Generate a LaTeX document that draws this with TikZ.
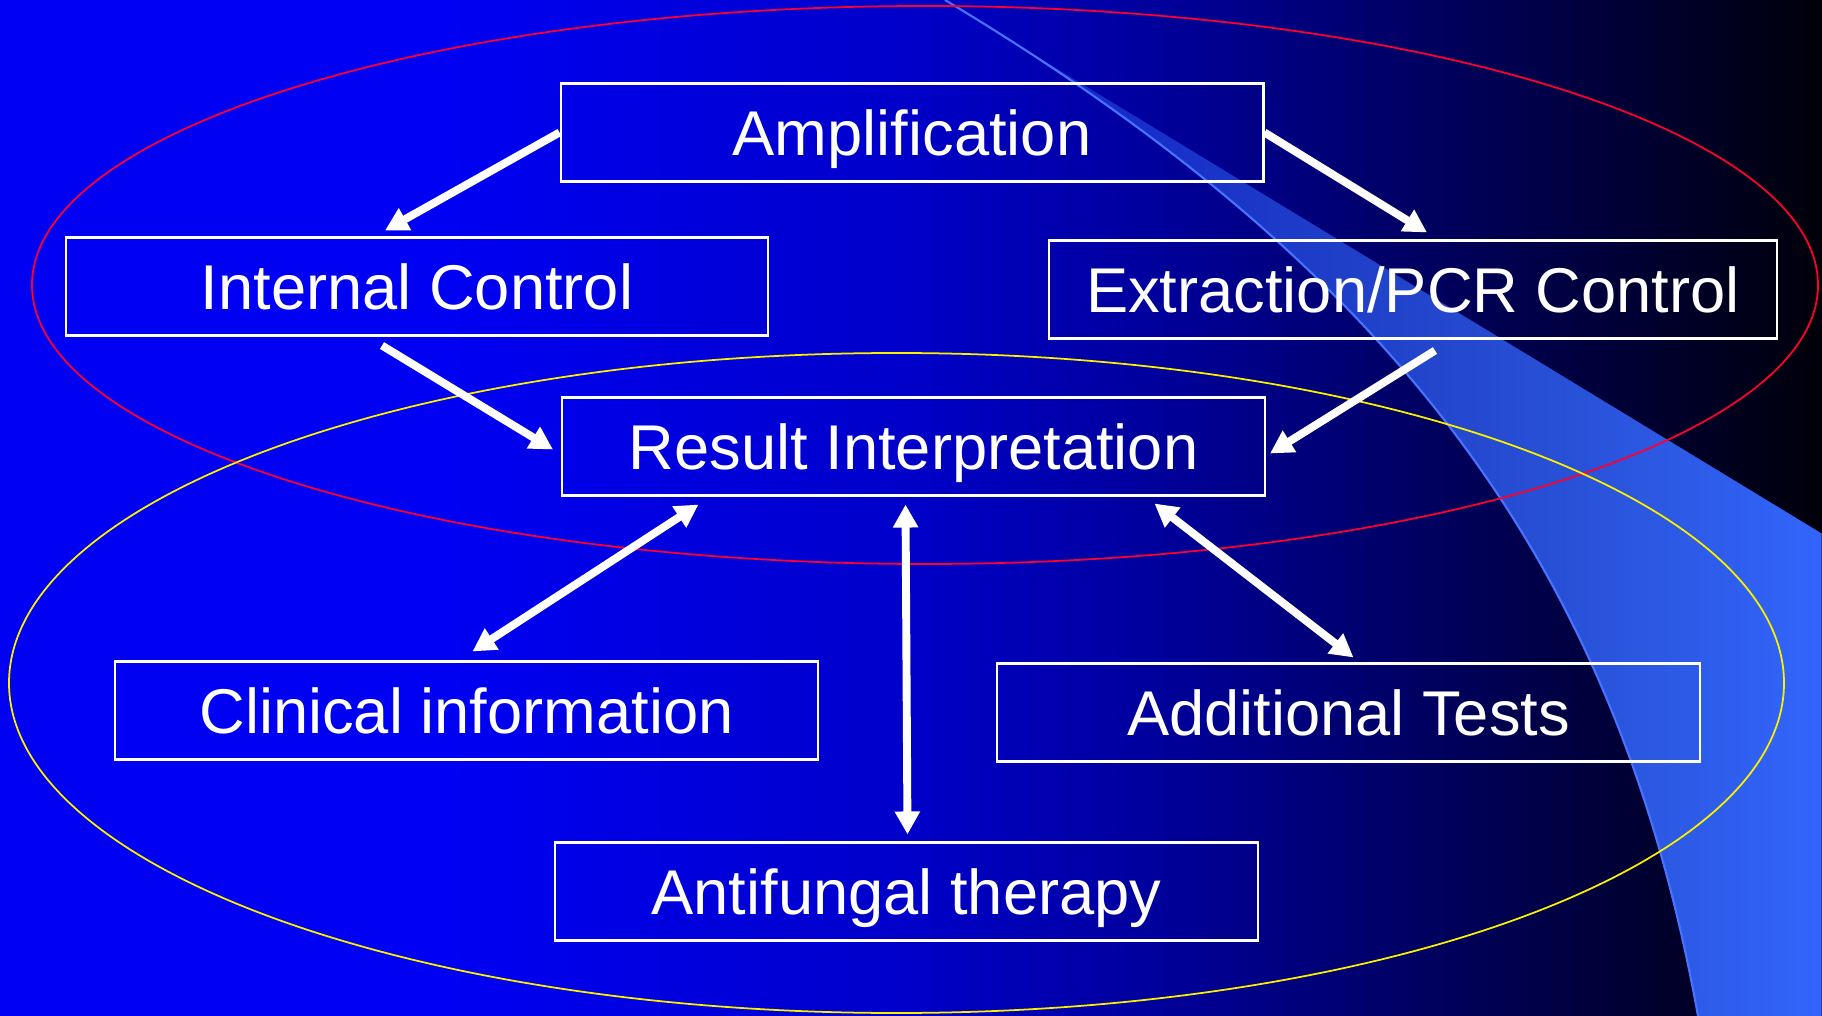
\documentclass[tikz,border=0pt]{standalone}
\usepackage{fontspec}
\setmainfont{Liberation Sans}
\usetikzlibrary{arrows.meta,calc,fadings}

\definecolor{slideblue}{RGB}{0,0,242}
\definecolor{swooshblue}{RGB}{51,102,255}
\definecolor{swooshedge}{RGB}{70,115,255}
\definecolor{ringred}{RGB}{255,0,45}
\definecolor{ringyellow}{RGB}{250,240,0}

% the path box takes the shading's middle half (25bp--75bp)
\pgfdeclarehorizontalshading{slidebg}{100bp}{color(0bp)=(slideblue); color(37.5bp)=(slideblue); color(50bp)=(slideblue!83!black); color(57.5bp)=(slideblue!62!black); color(62.5bp)=(slideblue!45!black); color(67.5bp)=(slideblue!29!black); color(75bp)=(slideblue!4!black); color(100bp)=(slideblue!4!black)}
\tikzfading[name=swooshfade, left color=transparent!70, middle color=transparent!15, right color=transparent!0]

\tikzset{
	stepbox/.style={draw=white, line width=1.2pt, minimum width=14.06cm, minimum height=1.96cm, inner sep=0pt,
		text=white, font=\fontsize{36}{40}\selectfont, text height=0.91cm, text depth=0cm},
	diredge/.style={-{Triangle[length=0.46cm,width=0.48cm]}, draw=white, line width=4.5pt},
	bidiredge/.style={{Triangle[length=0.46cm,width=0.48cm]}-{Triangle[length=0.46cm,width=0.48cm]}, draw=white, line width=4.5pt},
	ring/.style={line width=1pt}
}

\begin{document}
\begin{tikzpicture}[x=0.02cm,y=-0.02cm]
\useasboundingbox (0,0) rectangle (1822,1016);
%%%% background and swoosh
\fill[shading=slidebg] (0,0) rectangle (1822,1016);
\fill[swooshblue, path fading=swooshfade] (945,0) .. controls (1395,270) and (1617,566) .. (1698,1016) -- (1822,1016) -- (1822,533) -- cycle;
\draw[swooshedge, line width=1.2pt] (945,0) .. controls (1395,270) and (1617,566) .. (1698,1016);

%%%% rings
\draw[ring, ringred] (925,285) ellipse [x radius=893, y radius=279];
\draw[ring, ringyellow] (896.5,683) ellipse [x radius=887.5, y radius=330];

%%%% boxes
\node[stepbox] (amp) at (912,132.5) {Amplification};
\node[stepbox] (ic) at (417,286.5) {Internal Control};
\node[stepbox, minimum width=14.56cm] (ext) at (1413,289.5) {Extraction/PCR Control};
\node[stepbox] (ri) at (913.5,446.5) {Result Interpretation};
\node[stepbox] (ci) at (466.5,710.5) {Clinical information};
\node[stepbox] (at) at (1348.5,712.5) {Additional Tests};
\node[stepbox] (af) at (906.5,891.5) {Antifungal therapy};

%%%% arrows
\draw[diredge] (amp.west) -- ($(ic.north)+(-32,-6)$);
\draw[diredge] (amp.east) -- ($(ext.north)+(14,-7)$);
\draw[diredge] ($(ic.south)+(-35,9)$) -- ($(ri.west)+(-8,3)$);
\draw[diredge] ($(ext.south)+(22,11)$) -- ($(ri.east)+(4,7)$);

\draw[bidiredge] ($(ri.south)+(-215,8)$) -- ($(ci.north)+(6,-9)$);
\draw[bidiredge] ($(ri.south)+(-8,8)$) -- ($(af.north)+(1,-7)$);
\draw[bidiredge] ($(ri.south)+(241,7)$) -- ($(at.north)+(5,-5)$);
\end{tikzpicture}
\end{document}
